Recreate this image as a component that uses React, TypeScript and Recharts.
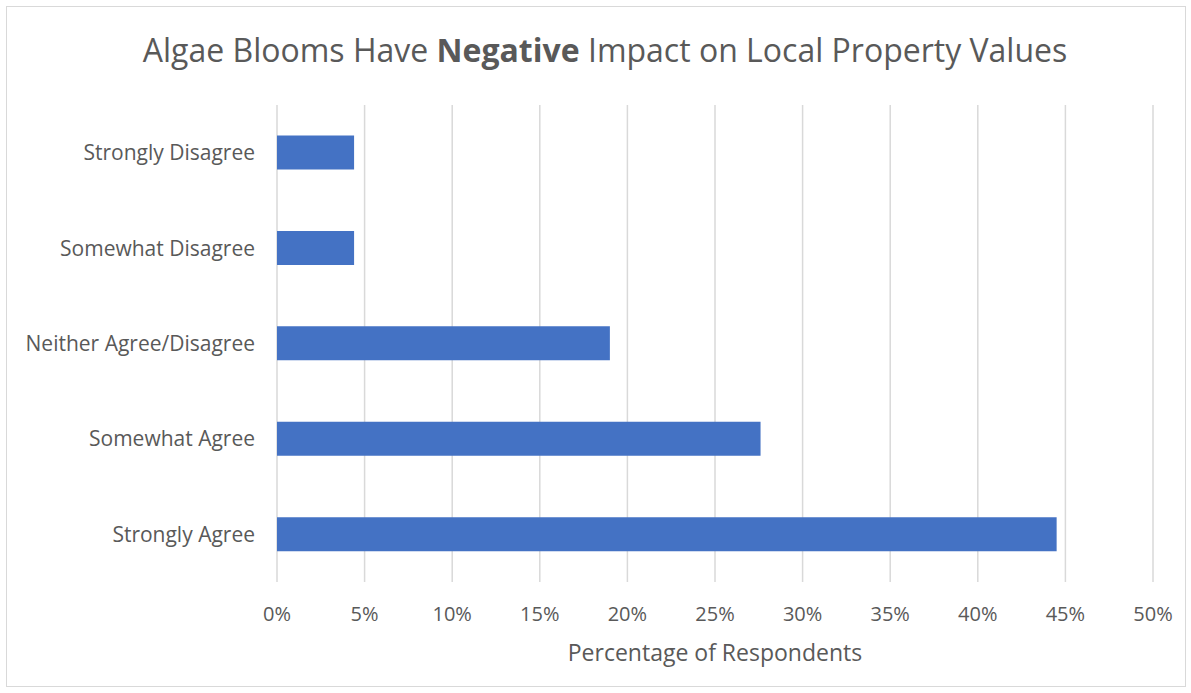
import { BarChart, Bar, XAxis, YAxis, CartesianGrid } from 'recharts'

// survey answers, top to bottom as drawn
const categories = [
  'Strongly Disagree',
  'Somewhat Disagree',
  'Neither Agree/Disagree',
  'Somewhat Agree',
  'Strongly Agree',
]
const percentages = [4.4, 4.4, 19.0, 27.6, 44.5]
const xTicks = [0, 5, 10, 15, 20, 25, 30, 35, 40, 45, 50]

const data = categories.map((name, i) => ({ name, value: percentages[i] }))

const FONT = '"Open Sans", sans-serif'
const TEXT = '#595959'

const App = () => {
  return (
    <div style={{ position: 'absolute', left: 0, top: 0, width: 1191, height: 693, background: '#fff', fontFamily: FONT }}>
      <div
        style={{
          position: 'absolute',
          left: 6,
          top: 6,
          width: 1180,
          height: 681,
          border: '1px solid #d9d9d9',
          boxSizing: 'border-box',
        }}
      />
      <div
        style={{
          position: 'absolute',
          left: 0,
          top: 29,
          width: 1210,
          textAlign: 'center',
          fontSize: 32,
          color: TEXT,
          lineHeight: '42px',
        }}
      >
        Algae Blooms Have <b>Negative</b> Impact on Local Property Values
      </div>
      <div style={{ position: 'absolute', left: 0, top: 0 }}>
        <BarChart
          width={1191}
          height={693}
          data={data}
          layout="vertical"
          margin={{ top: 105, right: 38, bottom: 41, left: 7 }}
          barCategoryGap="32%"
        >
          <CartesianGrid horizontal={false} stroke="#d9d9d9" strokeWidth={1.5} />
          <XAxis
            type="number"
            domain={[0, 50]}
            ticks={xTicks}
            interval={0}
            tickFormatter={(v: number) => `${v}%`}
            axisLine={false}
            tickLine={false}
            tickMargin={19}
            height={70}
            tick={{ fontSize: 20, fill: TEXT, fontFamily: FONT }}
            label={{
              value: 'Percentage of Respondents',
              position: 'insideBottom',
              offset: -9,
              fill: TEXT,
              fontSize: 23,
              fontFamily: FONT,
            }}
          />
          <YAxis
            type="category"
            dataKey="name"
            width={270}
            axisLine={false}
            tickLine={false}
            tickMargin={16}
            tick={{ fontSize: 21, fill: TEXT, fontFamily: FONT }}
          />
          <Bar dataKey="value" fill="#4472c4" isAnimationActive={false} />
        </BarChart>
      </div>
    </div>
  )
}

export default App
